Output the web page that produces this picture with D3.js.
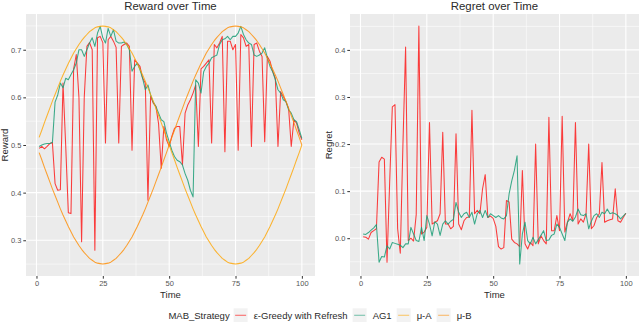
<!DOCTYPE html>
<html>
<head>
<meta charset="utf-8">
<script src="https://cdn.jsdelivr.net/npm/d3@7"></script>
<style>
  body { margin: 0; background: #fff; }
  svg { display: block; font-family: "Liberation Sans", Arial, sans-serif; font-weight: 400; }
  text { font-weight: 400; }
</style>
</head>
<body>
<script>
//constants
const w = 640;
const h = 322;
const top_ = 14, bottom_ = 276;
const textCol = "#2a2a2a";

// time steps 1..100
const time = d3.range(1, 101);

// reward panel
const rewardGreedy = [0.493,0.497,0.492,0.497,0.503,0.505,0.419,0.405,0.406,0.630,
  0.500,0.358,0.356,0.660,0.690,0.600,0.297,0.600,0.707,0.715,
  0.700,0.279,0.725,0.728,0.715,0.504,0.721,0.728,0.718,0.705,
  0.504,0.707,0.711,0.714,0.707,0.489,0.679,0.672,0.665,0.640,
  0.630,0.384,0.602,0.588,0.581,0.545,0.451,0.539,0.511,0.497,
  0.518,0.535,0.539,0.539,0.458,0.567,0.584,0.595,0.609,0.626,
  0.497,0.660,0.665,0.672,0.679,0.504,0.711,0.704,0.714,0.728,
  0.486,0.718,0.718,0.700,0.711,0.489,0.732,0.725,0.707,0.711,
  0.497,0.711,0.714,0.697,0.686,0.507,0.686,0.676,0.654,0.640,
  0.497,0.612,0.602,0.591,0.577,0.497,0.553,0.546,0.525,0.511];

const rewardAG1 = [0.497,0.500,0.502,0.503,0.503,0.505,0.590,0.605,0.630,0.620,
  0.640,0.637,0.648,0.658,0.672,0.700,0.700,0.686,0.700,0.714,
  0.725,0.707,0.735,0.749,0.725,0.714,0.745,0.728,0.742,0.718,
  0.714,0.714,0.716,0.711,0.700,0.655,0.665,0.672,0.658,0.640,
  0.616,0.626,0.605,0.590,0.581,0.567,0.553,0.549,0.525,0.507,
  0.489,0.476,0.468,0.465,0.458,0.440,0.426,0.405,0.391,0.637,
  0.630,0.609,0.654,0.665,0.672,0.683,0.686,0.689,0.711,0.721,
  0.723,0.728,0.721,0.728,0.728,0.735,0.749,0.732,0.721,0.714,
  0.711,0.689,0.686,0.689,0.693,0.704,0.683,0.665,0.654,0.637,
  0.616,0.609,0.595,0.591,0.574,0.567,0.553,0.549,0.532,0.514];

const muA = [0.516,0.531,0.547,0.562,0.577,0.592,0.606,0.620,0.634,0.647,
  0.659,0.671,0.682,0.693,0.702,0.711,0.719,0.726,0.732,0.738,
  0.742,0.746,0.748,0.749,0.750,0.749,0.748,0.746,0.742,0.738,
  0.732,0.726,0.719,0.711,0.702,0.693,0.682,0.671,0.659,0.647,
  0.634,0.620,0.606,0.592,0.577,0.562,0.547,0.531,0.516,0.500,
  0.484,0.469,0.453,0.438,0.423,0.408,0.394,0.380,0.366,0.353,
  0.341,0.329,0.318,0.307,0.298,0.289,0.281,0.274,0.268,0.262,
  0.258,0.254,0.252,0.251,0.250,0.251,0.252,0.254,0.258,0.262,
  0.268,0.274,0.281,0.289,0.298,0.307,0.318,0.329,0.341,0.353,
  0.366,0.380,0.394,0.408,0.423,0.438,0.453,0.469,0.484,0.500];

const muB = [0.484,0.469,0.453,0.438,0.423,0.408,0.394,0.380,0.366,0.353,
  0.341,0.329,0.318,0.307,0.298,0.289,0.281,0.274,0.268,0.262,
  0.258,0.254,0.252,0.251,0.250,0.251,0.252,0.254,0.258,0.262,
  0.268,0.274,0.281,0.289,0.298,0.307,0.318,0.329,0.341,0.353,
  0.366,0.380,0.394,0.408,0.423,0.438,0.453,0.469,0.484,0.500,
  0.516,0.531,0.547,0.562,0.577,0.592,0.606,0.620,0.634,0.647,
  0.659,0.671,0.682,0.693,0.702,0.711,0.719,0.726,0.732,0.738,
  0.742,0.746,0.748,0.749,0.750,0.749,0.748,0.746,0.742,0.738,
  0.732,0.726,0.719,0.711,0.702,0.693,0.682,0.671,0.659,0.647,
  0.634,0.620,0.606,0.592,0.577,0.562,0.547,0.531,0.516,0.500];

// regret panel
const regretGreedy = [0.003,0.002,-0.002,0.012,0.016,0.020,0.162,0.172,0.168,-0.051,
  0.120,0.279,0.284,0.020,-0.032,0.200,0.406,-0.005,0.000,-0.006,
  0.050,0.451,0.009,0.013,0.023,0.246,0.030,0.034,0.037,0.052,
  0.225,0.030,0.030,0.020,0.025,0.222,0.030,0.018,0.037,0.044,
  0.045,0.272,0.052,0.059,0.052,0.105,0.135,0.044,0.047,0.042,
  0.025,-0.018,-0.023,-0.020,0.080,0.077,-0.002,-0.009,-0.012,-0.018,
  0.144,-0.012,-0.023,-0.009,-0.016,0.200,-0.012,0.005,-0.005,-0.012,
  0.257,0.016,0.016,0.048,0.016,0.259,0.013,0.034,0.052,0.037,
  0.246,0.030,0.041,0.034,0.052,0.200,0.020,0.027,0.044,0.052,
  0.161,0.034,0.037,0.039,0.041,0.105,0.037,0.034,0.044,0.053];

const regretAG1 = [0.009,0.008,0.012,0.017,0.022,0.029,-0.051,-0.039,-0.040,-0.016,
  -0.023,-0.009,-0.011,-0.013,-0.015,-0.020,-0.012,-0.012,0.023,0.009,
  -0.005,-0.007,0.023,-0.005,0.048,0.030,0.005,0.035,0.030,0.006,
  0.030,0.037,0.030,0.036,0.040,0.076,0.055,0.044,0.052,0.055,
  0.044,0.055,0.030,0.052,0.059,0.044,0.059,0.044,0.052,0.048,
  0.044,0.048,0.043,0.041,0.048,0.094,0.122,0.144,0.175,-0.055,
  0.009,0.034,-0.005,-0.012,0.002,-0.012,-0.003,0.006,0.016,-0.005,
  -0.004,0.006,0.009,0.030,0.023,0.009,-0.005,0.034,0.041,0.036,
  0.045,0.062,0.050,0.048,0.052,0.020,0.036,0.048,0.052,0.044,
  0.055,0.052,0.062,0.052,0.054,0.052,0.048,0.041,0.047,0.053];

// ticks
const xTicks = [0, 25, 50, 75, 100];
const xMinor = [12.5, 37.5, 62.5, 87.5];
const rewardTicks = [0.3, 0.4, 0.5, 0.6, 0.7];
const rewardMinor = [0.25, 0.35, 0.45, 0.55, 0.65, 0.75];
const regretTicks = [0.0, 0.1, 0.2, 0.3, 0.4];
const regretMinor = [-0.05, 0.05, 0.15, 0.25, 0.35, 0.45];

// legend
const strategies = ["ε-Greedy with Refresh", "AG1", "μ-A", "μ-B"];
const colors = ["#ff0000", "#1b9e77", "#ffa500", "#ff8c00"];

const svg = d3.select("body").append("svg")
  .attr("width", w)
  .attr("height", h);

function expand(vals) {
  const e = d3.extent(vals);
  const p = (e[1] - e[0]) * 0.05;
  return [e[0] - p, e[1] + p];
}

function panel(left, right, title, ytitle, ytitleX, yTicks, yMinor, series) {
  const g = svg.append("g");

  const xScale = d3.scaleLinear()
    .domain(expand(time))
    .range([left, right]);

  const yScale = d3.scaleLinear()
    .domain(expand(series.flatMap(s => s.values)))
    .range([bottom_, top_]);

  g.append("rect")
    .attr("x", left).attr("y", top_)
    .attr("width", right - left).attr("height", bottom_ - top_)
    .attr("fill", "#ebebeb");

  // minor grid
  g.selectAll(".xm").data(xMinor).enter().append("line")
    .attr("x1", d => xScale(d)).attr("x2", d => xScale(d))
    .attr("y1", top_).attr("y2", bottom_)
    .attr("stroke", "#fff").attr("stroke-width", 0.55);
  g.selectAll(".ym").data(yMinor).enter().append("line")
    .attr("y1", d => yScale(d)).attr("y2", d => yScale(d))
    .attr("x1", left).attr("x2", right)
    .attr("stroke", "#fff").attr("stroke-width", 0.55);
  // major grid
  g.selectAll(".xg").data(xTicks).enter().append("line")
    .attr("x1", d => xScale(d)).attr("x2", d => xScale(d))
    .attr("y1", top_).attr("y2", bottom_)
    .attr("stroke", "#fff").attr("stroke-width", 1.1);
  g.selectAll(".yg").data(yTicks).enter().append("line")
    .attr("y1", d => yScale(d)).attr("y2", d => yScale(d))
    .attr("x1", left).attr("x2", right)
    .attr("stroke", "#fff").attr("stroke-width", 1.1);

  // lines
  const line = d3.line()
    .x((d, i) => xScale(time[i]))
    .y(d => yScale(d));
  series.forEach(s => {
    g.append("path")
      .attr("d", line(s.values))
      .attr("fill", "none")
      .attr("stroke", s.color)
      .attr("stroke-opacity", s.opacity)
      .attr("stroke-width", 1.05)
      .attr("stroke-linejoin", "round");
  });

  // axes
  const xAxis = d3.axisBottom(xScale).tickValues(xTicks).tickSize(2.7).tickPadding(2);
  const yAxis = d3.axisLeft(yScale).tickValues(yTicks).tickSize(2.7).tickPadding(2)
    .tickFormat(d3.format(".1f"));

  const gx = g.append("g")
    .attr("transform", "translate(0," + bottom_ + ")")
    .call(xAxis);
  const gy = g.append("g")
    .attr("transform", "translate(" + left + ",0)")
    .call(yAxis);
  [gx, gy].forEach(a => {
    a.attr("font-family", null).attr("font-size", null);
    a.select(".domain").remove();
    a.selectAll(".tick line").attr("stroke", "#333");
    a.selectAll(".tick text")
      .attr("fill", "#555")
      .style("font-size", "7.5px")
      .style("font-weight", "400");
  });

  // titles
  g.append("text")
    .attr("x", (left + right) / 2).attr("y", 10)
    .attr("text-anchor", "middle")
    .attr("fill", textCol)
    .style("font-size", "11.4px")
    .text(title);
  g.append("text")
    .attr("x", (left + right) / 2).attr("y", 297.8)
    .attr("text-anchor", "middle")
    .attr("fill", textCol)
    .style("font-size", "9.5px")
    .text("Time");
  g.append("text")
    .attr("transform", "translate(" + ytitleX + "," + ((top_ + bottom_) / 2) + ") rotate(-90)")
    .attr("text-anchor", "middle")
    .attr("fill", textCol)
    .style("font-size", "9.5px")
    .text(ytitle);
}

panel(26, 315, "Reward over Time", "Reward", 8, rewardTicks, rewardMinor, [
  {values: rewardGreedy, color: colors[0], opacity: 0.75},
  {values: rewardAG1, color: colors[1], opacity: 0.85},
  {values: muA, color: colors[2], opacity: 0.8},
  {values: muB, color: colors[3], opacity: 0.8}
]);

panel(350, 639, "Regret over Time", "Regret", 331.5, regretTicks, regretMinor, [
  {values: regretGreedy, color: colors[0], opacity: 0.75},
  {values: regretAG1, color: colors[1], opacity: 0.85}
]);

// legend
const leg = svg.append("g");
const legY = 315.3;
const legTitle = leg.append("text")
  .attr("x", 0).attr("y", legY + 3.4)
  .attr("fill", textCol)
  .style("font-size", "9.5px")
  .text("MAB_Strategy");
let cx = legTitle.node().getComputedTextLength() + 4;
strategies.forEach((s, i) => {
  leg.append("rect")
    .attr("x", cx).attr("y", legY - 7)
    .attr("width", 14).attr("height", 14)
    .attr("fill", "#f2f2f2");
  leg.append("line")
    .attr("x1", cx + 1.5).attr("x2", cx + 12.5)
    .attr("y1", legY).attr("y2", legY)
    .attr("stroke", colors[i])
    .attr("stroke-opacity", 0.55)
    .attr("stroke-width", 1.1);
  cx += 14 + 6;
  const t = leg.append("text")
    .attr("x", cx).attr("y", legY + 3.4)
    .attr("fill", textCol)
    .style("font-size", "9.5px")
    .text(s);
  cx += t.node().getComputedTextLength() + (i < strategies.length - 1 ? 5 : 0);
});
leg.attr("transform", "translate(" + (320 - cx / 2) + ",0)");
</script>
</body>
</html>
